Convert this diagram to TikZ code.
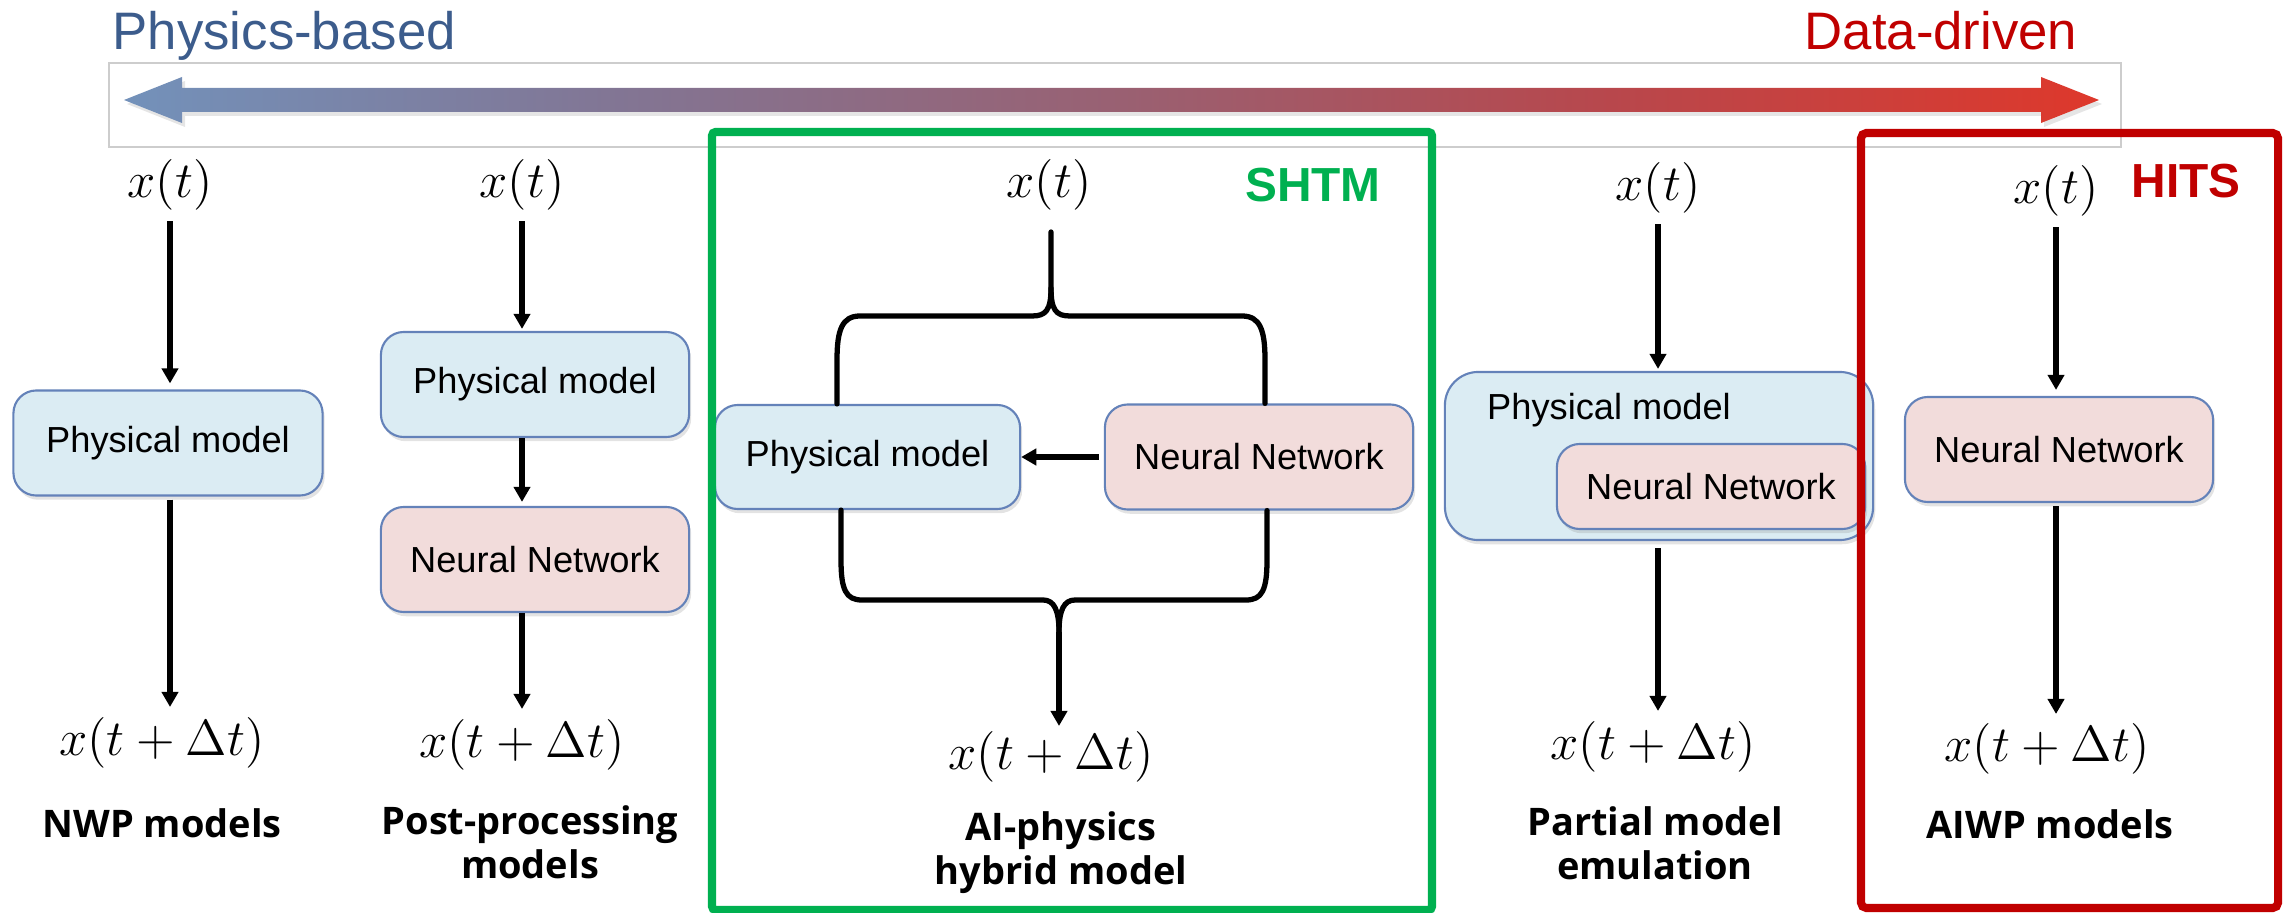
\documentclass[tikz,border=0pt]{standalone}
\usepackage[no-math]{fontspec}
\setmainfont{Liberation Sans}
\newfontfamily\lblfont{Open Sans}
\usetikzlibrary{arrows.meta,shadows,calc}

\definecolor{physfill}{RGB}{219,236,243}
\definecolor{nnfill}{RGB}{242,220,219}
\definecolor{boxedge}{RGB}{100,130,185}
\definecolor{shtmgreen}{RGB}{0,176,80}
\definecolor{hitsred}{RGB}{192,0,0}
\definecolor{physblue}{RGB}{60,92,140}
\definecolor{bandgray}{RGB}{205,205,205}

% blue -> purple -> red band (25bp..75bp spans the filled path)
\pgfdeclarehorizontalshading{spectrum}{100bp}{%
  rgb(0bp)=(0.45,0.57,0.73);
  rgb(25bp)=(0.45,0.57,0.73);
  rgb(37.5bp)=(0.51,0.46,0.58);
  rgb(50bp)=(0.60,0.38,0.45);
  rgb(62.5bp)=(0.72,0.28,0.30);
  rgb(75bp)=(0.87,0.22,0.17);
  rgb(100bp)=(0.87,0.22,0.17)}

\begin{document}
\begin{tikzpicture}[x=0.01cm,y=-0.01cm,
  box/.style={draw=boxedge, line width=0.6pt, rounded corners=6.5pt, inner sep=0pt,
    font=\fontsize{10.3}{12}\selectfont,
    drop shadow={opacity=0.22, shadow xshift=0.6pt, shadow yshift=-1.2pt}},
  physbox/.style={box, fill=physfill},
  nnbox/.style={box, fill=nnfill},
  state/.style={inner sep=0pt, font=\fontsize{14.2}{17}\selectfont},
  caption/.style={align=center, inner sep=0pt, font=\lblfont\bfseries\fontsize{10.8}{12.5}\selectfont},
  boxtext/.style={inner sep=0pt, font=\fontsize{10.3}{12}\selectfont},
  flow/.style={line width=1.45pt, -{Triangle[length=4.3pt,width=4.6pt]}},
  brace/.style={line width=1.5pt, line join=round, line cap=round},
  frame/.style={line width=2.3pt},
  tag/.style={inner sep=0pt, font=\bfseries\fontsize{13.6}{16}\selectfont}
]
\useasboundingbox (0,0) rectangle (2286,913);

% ---------- spectrum header ----------
\node[anchor=base west, inner sep=0pt, text=physblue, font=\fontsize{15}{18}\selectfont] (physlbl) at (112,50) {Physics-based};
\node[anchor=base east, inner sep=0pt, text=hitsred, font=\fontsize{15}{18}\selectfont] (datalbl) at (2078,50) {Data-driven};
\draw[bandgray, line width=0.5pt] (109,63) rectangle (2121,147);
\fill[black, opacity=0.10] (127,104) -- (185,81) -- (185,92) -- (2044,92) -- (2044,81) -- (2102,104)
  -- (2044,127) -- (2044,116) -- (185,116) -- (185,127) -- cycle;
\shade[shading=spectrum] (124,100) -- (182,77) -- (182,88) -- (2041,88) -- (2041,77) -- (2099,100)
  -- (2041,123) -- (2041,112) -- (182,112) -- (182,123) -- cycle;

% ---------- NWP models ----------
\node[state] (xt1) at (170,185) {$x(t)$};
\node[physbox, minimum width=3.09cm, minimum height=1.05cm] (pm1) at (168,443) {Physical model};
\node[state] (xtd1) at (162,743) {$x(t+\Delta t)$};
\node[caption, anchor=base] (cap1) at (162,837) {NWP models};
\draw[flow, shorten <=0.10cm, shorten >=0.06cm] (xt1.south) -- (xt1.south |- pm1.north);
\draw[flow, shorten <=0.03cm, shorten >=0.10cm] (pm1.south -| xt1.south) -- (xt1.south |- xtd1.north);

% ---------- Post-processing models ----------
\node[state] (xt2) at (522,185) {$x(t)$};
\node[physbox, minimum width=3.08cm, minimum height=1.05cm] (pm2) at (535,384.5) {Physical model};
\node[nnbox, minimum width=3.08cm, minimum height=1.05cm] (nn2) at (535,559.5) {Neural Network};
\node[state] (xtd2) at (522,745) {$x(t+\Delta t)$};
% two-line captions: the base anchor sits on the last line
\node[caption, anchor=base] (cap2) at (530,878) {Post-processing\\models};
\draw[flow, shorten <=0.10cm, shorten >=0.02cm] (xt2.south) -- (xt2.south |- pm2.north);
\draw[flow, shorten >=0.04cm] (pm2.south -| xt2.south) -- (xt2.south |- nn2.north);
\draw[flow, shorten >=0.10cm] (nn2.south -| xt2.south) -- (xt2.south |- xtd2.north);

% ---------- AI-physics hybrid model ----------
\node[state] (xt3) at (1049,185) {$x(t)$};
\node[physbox, minimum width=3.05cm, minimum height=1.04cm] (pm3) at (867.5,457) {Physical model};
\node[nnbox, minimum width=3.08cm, minimum height=1.05cm] (nn3) at (1259,457) {Neural Network};
\node[state] (xtd3) at (1051,757) {$x(t+\Delta t)$};
\node[caption, anchor=base] (cap3) at (1061,884) {AI-physics\\hybrid model};
\draw[flow, shorten <=0.05cm] (nn3.west) -- (pm3.east);
% upper brace: splits the input towards both blocks
\coordinate (topcusp) at (1051,232);
\coordinate (topneck) at (1051,288);
\draw[brace] (topcusp) -- (topneck)
  .. controls (1051,310) and (1046,316) .. (1032,316) -- (860,316)
  .. controls (842,316) and (837,330) .. (837,360) -- (pm3.north -| 837,0);
\draw[brace] (topneck)
  .. controls (1051,310) and (1056,316) .. (1070,316) -- (1242,316)
  .. controls (1260,316) and (1265,330) .. (1265,360) -- (nn3.north -| 1265,0);
% lower brace: merges both blocks into the output
\coordinate (lowcusp) at (1059,632);
\draw[brace] (pm3.south -| 841,0) -- (841,560)
  .. controls (841,590) and (846,600) .. (862,600) -- (1043,600)
  .. controls (1054,600) and (1059,610) .. (lowcusp);
\draw[brace] (nn3.south -| 1267,0) -- (1267,560)
  .. controls (1267,590) and (1262,600) .. (1246,600) -- (1075,600)
  .. controls (1064,600) and (1059,610) .. (lowcusp);
\draw[flow, shorten >=0.05cm] (lowcusp) -- (lowcusp |- xtd3.north);

% ---------- Partial model emulation ----------
\node[state] (xt4) at (1658,188) {$x(t)$};
\node[physbox, minimum width=4.28cm, minimum height=1.68cm, rounded corners=9.5pt] (pm4) at (1659,456) {};
\node[boxtext, anchor=base] (pm4txt) at (1609,420) {Physical model};
\node[nnbox, minimum width=3.08cm, minimum height=0.85cm] (nn4) at (1711,486.5) {Neural Network};
\node[state] (xtd4) at (1653,747) {$x(t+\Delta t)$};
\node[caption, anchor=base] (cap4) at (1655,879) {Partial model\\emulation};
\draw[flow, shorten <=0.10cm, shorten >=0.02cm] (xt4.south) -- (xt4.south |- pm4.north);
\draw[flow, shorten <=0.07cm, shorten >=0.10cm] (pm4.south -| xt4.south) -- (xt4.south |- xtd4.north);

% ---------- AIWP models ----------
\node[state] (xt5) at (2056,191) {$x(t)$};
\node[nnbox, minimum width=3.08cm, minimum height=1.05cm] (nn5) at (2059,449.5) {Neural Network};
\node[state] (xtd5) at (2047,749) {$x(t+\Delta t)$};
\node[caption, anchor=base] (cap5) at (2050,838) {AIWP models};
\draw[flow, shorten <=0.10cm, shorten >=0.06cm] (xt5.south) -- (xt5.south |- nn5.north);
\draw[flow, shorten <=0.03cm, shorten >=0.09cm] (nn5.south -| xt5.south) -- (xt5.south |- xtd5.north);

% ---------- highlight frames ----------
\draw[frame, shtmgreen, rounded corners=1pt] (712,132) rectangle (1432,910);
\draw[frame, hitsred, rounded corners=1.5pt] (1861,133) rectangle (2278,908);
\node[tag, text=shtmgreen, anchor=base] (shtm) at (1313,202) {SHTM};
\node[tag, text=hitsred, anchor=base] (hits) at (2186,198) {HITS};
\end{tikzpicture}
\end{document}
